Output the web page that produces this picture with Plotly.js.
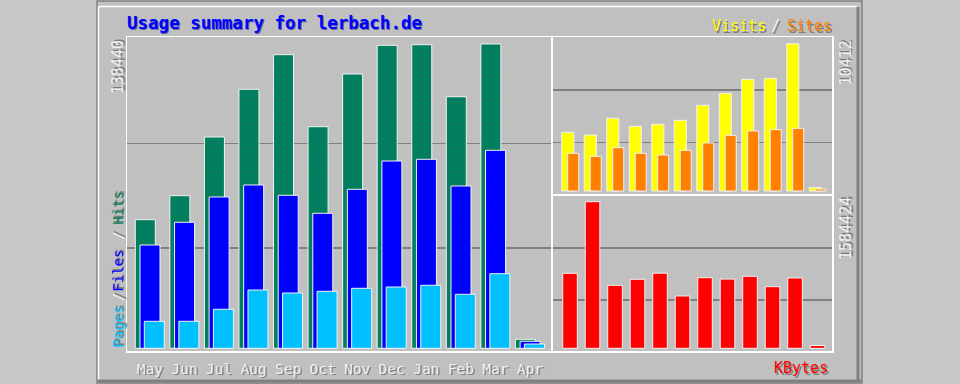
<!DOCTYPE html>
<html><head><meta charset="utf-8">
<script src="https://cdn.plot.ly/plotly-3.0.1.min.js"></script>
<style>html,body{margin:0;padding:0;background:#c8c8c8;} #chart{width:960px;height:384px;}</style>
</head><body><div id="chart"></div>
<script>
const months = ['May','Jun','Jul','Aug','Sep','Oct','Nov','Dec','Jan','Feb','Mar','Apr'];
const hits   = [58500,69420,96120,117820,133560,100800,124780,137830,138100,114450,138440,4090];
const files  = [46990,57320,68830,74290,69600,61410,72330,85200,85970,73830,90070,3180];
const pages  = [12280,12280,17740,26520,25160,25930,27290,27890,28660,24560,33940,1960];
const visits = [4150,3960,5140,4570,4715,4995,6060,6905,7895,7965,10412,250];
const sites  = [2665,2450,3060,2665,2545,2875,3395,3935,4240,4335,4430,140];
const kbytes = [810600,1584424,680900,745750,812000,565260,763040,748000,778180,665770,760000,30260];

const W = 960, H = 384;
const px = v => v / W, py = v => 1 - v / H;
const FONT = 'DejaVu Sans Mono, Liberation Mono, monospace';
const edge = {color:'#f2f2f2', width:1};
const SH = '1.5px 1.5px 0px #7c7c7c';

function bar(x, y, xa, ya, color, width, offset, extra) {
  const m = Object.assign({color: color, line: edge}, extra || {});
  return {type:'bar', x:x, y:y, xaxis:xa, yaxis:ya, width:width, offset:offset,
          marker:m, hoverinfo:'skip'};
}

const traces = [
  bar(months, hits,  'x', 'y', '#00805c', 0.579, -0.42,
      {pattern:{shape:'.', fillmode:'overlay', fgcolor:'#2a6080', size:6, solidity:0.12}}),
  bar(months, files, 'x', 'y', '#0000ff', 0.579, -0.284),
  bar(months, pages, 'x', 'y', '#00c0ff', 0.579, -0.159),
  bar(months, visits,'x2','y2','#ffff00', 0.54, -0.369),
  bar(months, sites, 'x2','y2','#ff8000', 0.49, -0.102),
  bar(months, kbytes,'x3','y3','#ff0000', 0.649, -0.324)
];

const axBase = {showline:true, linecolor:'#ffffff', linewidth:1.5, mirror:true, zeroline:false, fixedrange:true};
const xBase = Object.assign({}, axBase, {type:'category', showgrid:false, ticks:''});
const yBase = Object.assign({}, axBase, {showticklabels:false, gridcolor:'#808080', gridwidth:1.5, ticks:''});

const fmt = v => String(v);

function rot(text, x, y, size, color) {
  return {text:text, xref:'paper', yref:'paper', x:px(x), y:py(y), textangle:-90,
          xanchor:'center', yanchor:'middle', showarrow:false,
          font:{family:FONT, size:size, color:color, shadow:SH}};
}
function flat(text, x, y, anchor, size, color) {
  return {text:text, xref:'paper', yref:'paper', x:px(x), y:py(y), xanchor:anchor, yanchor:'middle',
          showarrow:false, font:{family:FONT, size:size, color:color, shadow:SH}};
}

const layout = {
  width:W, height:H, margin:{l:0,r:0,t:0,b:0},
  paper_bgcolor:'#c8c8c8', plot_bgcolor:'rgba(0,0,0,0)',
  barmode:'overlay', showlegend:false,
  font:{family:FONT},
  xaxis: Object.assign({}, xBase, {domain:[px(127), px(551)], range:[-0.66, 11.61], anchor:'y',
          tickfont:{family:FONT, size:14.5, color:'#f0f0f0', shadow:SH}, ticklabelstandoff:4}),
  yaxis: Object.assign({}, yBase, {domain:[py(351), py(37)], range:[-1228, 141610], anchor:'x',
          tickvals:[45600, 93250]}),
  xaxis2: Object.assign({}, xBase, {domain:[px(553), px(832)], range:[-0.756, 11.644], anchor:'y2', showticklabels:false}),
  yaxis2: Object.assign({}, yBase, {domain:[py(194), py(37)], range:[-212, 10886], anchor:'x2',
          tickvals:[3414, 7140]}),
  xaxis3: Object.assign({}, xBase, {domain:[px(553), px(832)], range:[-0.756, 11.644], anchor:'y3', showticklabels:false}),
  yaxis3: Object.assign({}, yBase, {domain:[py(351), py(196)], range:[-29180, 1646060], anchor:'x3',
          tickvals:[522000, 1084000]}),
  shapes: [
    {type:'rect', xref:'paper', yref:'paper', x0:px(97), x1:px(862), y0:py(383), y1:py(1),
     fillcolor:'#c0c0c0', line:{color:'#808080', width:1.5}, layer:'below'},
    {type:'line', xref:'paper', yref:'paper', x0:px(99), x1:px(859), y0:py(6.5), y1:py(6.5),
     line:{color:'#ffffff', width:1.5}, layer:'below'},
    {type:'line', xref:'paper', yref:'paper', x0:px(98.5), x1:px(98.5), y0:py(6.5), y1:py(380),
     line:{color:'#ffffff', width:1.5}, layer:'below'},
    {type:'line', xref:'paper', yref:'paper', x0:px(858), x1:px(858), y0:py(6.5), y1:py(381),
     line:{color:'#808080', width:3}, layer:'below'},
    {type:'line', xref:'paper', yref:'paper', x0:px(98), x1:px(861), y0:py(381), y1:py(381),
     line:{color:'#808080', width:3}, layer:'below'}
  ],
  annotations: [
    {text:'<b>Usage summary for lerbach.de</b>', xref:'paper', yref:'paper', x:px(125), y:py(22.5),
     xanchor:'left', yanchor:'middle', showarrow:false,
     font:{family:FONT, size:17.5, color:'#0000ff', shadow:'1px 1px 0px #6060a0'}},
    flat('Visits', 768, 26, 'right', 15, '#ffff00'),
    flat('/', 775, 26, 'center', 15, '#f0f0f0'),
    flat('Sites', 785, 26, 'left', 15, '#ff8000'),
    flat('KBytes', 830, 367.5, 'right', 15, '#ff0000'),
    rot('Pages', 117.7, 327, 14, '#00c0ff'),
    rot('/', 117.7, 297.5, 14, '#f0f0f0'),
    rot('Files', 117.7, 271, 14, '#0000ff'),
    rot('/', 117.7, 236, 14, '#f0f0f0'),
    rot('Hits', 117.7, 208, 14, '#00805c'),
    rot(fmt(Math.max(...hits)), 117.7, 67.5, 15, '#f0f0f0'),
    rot(fmt(Math.max(...visits)), 846, 63.3, 15, '#f0f0f0'),
    rot(fmt(Math.max(...kbytes)), 846, 229, 15, '#f0f0f0')
  ]
};

Plotly.newPlot('chart', traces, layout, {displayModeBar:false, staticPlot:true});
</script>
</body></html>
